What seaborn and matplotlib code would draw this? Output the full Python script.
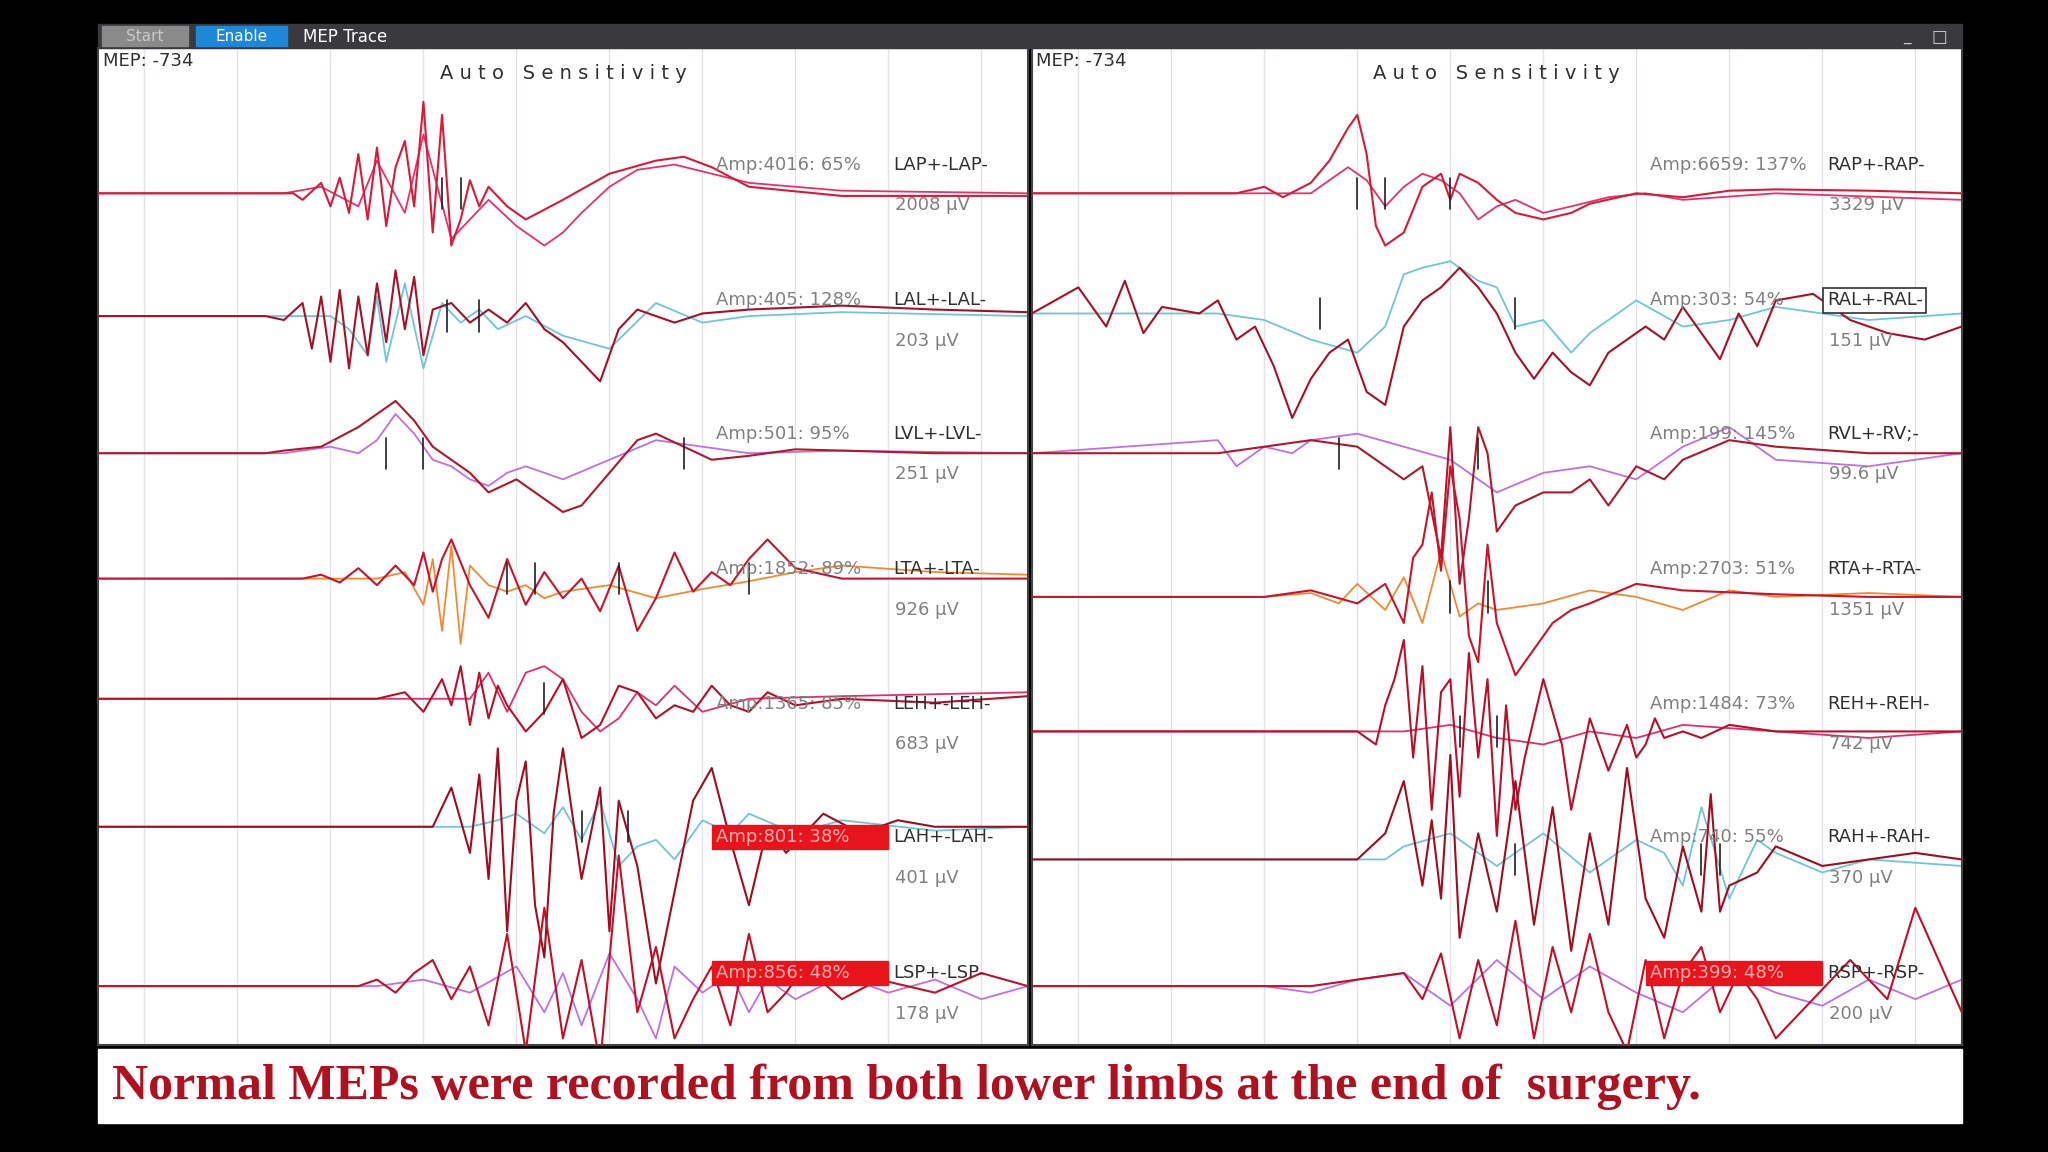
import numpy as np
import matplotlib
matplotlib.use("Agg")
import matplotlib.pyplot as plt
from matplotlib.patches import Rectangle
import seaborn as sns

sns.set_style("white")
plt.rcParams['font.family'] = ['DejaVu Sans']

# reference frame is 1568 x 882 px; panels span 0..100 ms
RW, RH = 1568.0, 882.0

# ---- data: (time ms, deflection px) per channel, two overlaid sweeps ----
left_names = ["LAP+-LAP-", "LAL+-LAL-", "LVL+-LVL-", "LTA+-LTA-", "LEH+-LEH-", "LAH+-LAH-", "LSP+-LSP-"]
left_amps = ["Amp:4016: 65%", "Amp:405: 128%", "Amp:501: 95%", "Amp:1852: 89%", "Amp:1365: 85%", "Amp:801: 38%", "Amp:856: 48%"]
left_uv = ["2008 µV", "203 µV", "251 µV", "926 µV", "683 µV", "401 µV", "178 µV"]
left_base = [148, 242, 347, 443, 535, 633, 755]
left_alarm = [False, False, False, False, False, True, True]

right_names = ["RAP+-RAP-", "RAL+-RAL-", "RVL+-RV;-", "RTA+-RTA-", "REH+-REH-", "RAH+-RAH-", "RSP+-RSP-"]
right_amps = ["Amp:6659: 137%", "Amp:303: 54%", "Amp:199: 145%", "Amp:2703: 51%", "Amp:1484: 73%", "Amp:740: 55%", "Amp:399: 48%"]
right_uv = ["3329 µV", "151 µV", "99.6 µV", "1351 µV", "742 µV", "370 µV", "200 µV"]
right_base = [148, 240, 347, 457, 560, 658, 755]
right_alarm = [False, False, False, False, False, False, True]
right_boxed = 1  # selected channel

# label rows (same for both panels)
label_rows = [126, 230, 332, 436, 539, 641, 745]

# sweep A (current) and sweep B (baseline) per channel
LA_t = [
    [0,21,22,24,25,26,27,28,29,30,31,32,33,34,35,36,37,38,39,40,41,42,44,46,50,55,60,63,66,70,80,100],
    [0,18,20,22,23,24,25,26,27,28,29,30,31,32,33,34,35,36,38,40,42,44,46,48,50,52,54,56,58,60,62,65,70,80,90,100],
    [0,18,20,24,28,30,32,34,36,38,40,42,45,48,50,52,55,58,60,63,66,70,75,80,90,100],
    [0,22,24,26,28,30,32,34,35,36,37,38,40,42,44,46,48,50,52,54,56,58,60,62,64,66,68,70,72,75,80,90,100],
    [0,30,33,35,37,38,39,40,41,42,43,44,46,48,50,52,54,56,58,60,62,64,66,68,70,72,75,80,90,100],
    [0,36,38,40,41,42,43,44,45,46,47,48,49,50,52,54,55,56,58,60,62,64,66,68,70,72,74,78,82,86,90,100],
    [0,28,30,32,34,36,38,40,42,44,46,48,50,52,54,56,58,60,62,64,66,68,70,72,74,76,80,84,90,95,100],
]
LA_v = [
    [0,0,-5,8,-10,12,-15,30,-20,35,-25,20,40,-10,70,-30,60,-40,-20,10,-10,5,-10,-20,-5,15,25,28,20,5,-2,-2],
    [0,0,-3,10,-25,15,-35,20,-40,15,-30,25,-20,35,-10,30,-30,5,10,-5,5,-5,10,-10,-20,-35,-50,-10,5,0,-5,2,5,8,5,3],
    [0,0,2,5,20,30,40,25,5,-5,-15,-30,-20,-35,-45,-40,-15,10,15,5,-5,-2,3,2,0,0],
    [0,0,3,-3,8,-5,10,-5,20,-10,15,30,-5,-30,15,-20,5,-15,0,-25,10,-40,-15,20,-10,5,-5,15,30,8,0,0,0],
    [0,0,5,-10,15,-5,25,-20,20,-15,10,-5,-25,-10,15,-30,-20,10,5,-15,-5,-10,10,-5,-10,5,-5,0,-3,2],
    [0,0,30,-20,40,-40,60,-80,20,50,-60,-100,10,60,-40,30,-80,20,-30,-120,-50,20,45,-10,-60,0,-20,10,-5,5,0,0],
    [0,0,5,-5,10,20,-10,15,-30,40,-50,60,-40,20,-60,100,-20,30,-40,-10,15,-30,40,-20,-5,15,-10,5,-5,10,0],
]
LB_t = [
    [0,20,24,28,30,33,35,38,40,42,45,48,50,52,55,58,62,66,70,80,100],
    [0,25,27,29,30,31,33,35,37,39,41,43,46,50,55,60,65,70,80,100],
    [0,20,25,28,30,32,34,36,38,40,42,44,46,50,55,60,65,70,80,100],
    [0,30,33,35,36,37,38,39,40,42,44,46,48,50,55,60,65,70,75,80,90,100],
    [0,40,42,44,46,48,50,52,54,56,58,60,62,65,70,80,100],
    [0,40,43,45,48,50,52,54,56,58,60,62,65,68,70,75,80,90,100],
    [0,30,35,40,45,48,50,52,55,58,60,62,65,68,70,72,75,80,85,90,95,100],
]
LB_v = [
    [0,0,5,-10,25,-15,45,-35,-20,-5,-25,-40,-30,-15,5,18,22,15,8,2,0],
    [0,0,-10,-30,15,-35,25,-40,10,-5,5,-10,0,-15,-25,10,-5,0,3,0],
    [0,0,5,0,10,30,15,-5,-10,-20,-25,-15,-10,-20,-5,10,5,0,2,0],
    [0,0,5,-20,15,-40,25,-50,10,-5,-10,-5,-15,-10,-5,-15,-8,-2,5,10,5,3],
    [0,0,20,-10,20,25,15,-10,-25,-15,5,-5,10,-10,0,2,5],
    [0,0,5,10,-5,15,-10,20,-30,-15,-10,-25,5,-5,10,-5,5,-3,0],
    [0,0,5,-5,15,-20,10,-30,25,-10,-40,15,-5,10,-20,5,-10,8,-5,5,-10,0],
]
RA_t = [
    [0,22,25,27,30,32,34,35,36,37,38,40,42,44,45,46,48,50,52,55,58,60,65,70,75,80,90,100],
    [0,5,8,10,12,14,18,20,22,24,26,28,30,32,34,36,38,40,42,44,46,48,50,52,54,56,58,60,62,64,66,68,70,72,74,76,78,80,84,88,92,96,100],
    [0,20,25,30,35,40,42,44,45,46,47,48,49,50,52,55,58,60,62,65,68,70,75,80,90,100],
    [0,25,30,35,38,40,41,42,43,44,45,46,47,48,49,50,52,54,56,58,60,65,70,80,90,100],
    [0,35,37,38,39,40,41,42,43,44,45,46,47,48,49,50,51,52,53,55,57,58,60,62,64,65,66,67,68,70,72,75,80,90,100],
    [0,35,38,40,42,43,44,45,46,48,50,52,54,56,58,60,62,64,66,68,70,72,73,74,75,78,80,85,90,95,100],
    [0,30,35,40,42,44,46,48,50,52,54,56,58,60,62,64,66,68,70,72,74,76,78,80,84,88,92,95,100],
]
RA_v = [
    [0,0,5,-3,8,25,50,60,30,-25,-40,-30,5,15,-5,15,8,-5,-15,-20,-15,-8,0,-3,2,3,2,0],
    [0,20,-10,25,-15,5,0,10,-20,-10,-40,-80,-50,-30,-20,-60,-70,-10,10,20,35,20,0,-30,-50,-30,-45,-55,-30,-20,-10,-20,5,-15,-35,0,-25,10,15,-5,-15,-20,-10],
    [0,0,5,10,5,-20,-10,-80,20,-100,-50,20,0,-60,-40,-30,-30,-20,-40,-10,-20,-5,10,5,0,0],
    [0,0,5,-5,10,-20,30,40,80,20,100,60,-30,-50,40,-20,-60,-40,-20,-10,-5,10,5,2,0,0],
    [0,0,-10,20,40,70,-20,50,-60,30,40,-50,60,-20,40,-80,20,-60,-20,40,-10,-60,10,-30,5,-20,-10,10,-5,0,-5,5,0,0,0],
    [0,0,20,60,-20,30,-30,80,-60,20,-40,60,-50,40,-70,20,-50,70,-30,-60,10,-40,50,-40,-20,-10,10,-5,0,5,0],
    [0,0,5,10,-10,25,-40,20,-30,50,-40,30,-20,40,-20,-50,20,-40,10,30,-20,10,-10,-40,-10,20,-10,60,-20],
]
RB_t = [
    [0,30,34,36,38,40,42,44,46,48,50,52,55,58,62,66,70,80,100],
    [0,20,25,30,35,38,40,42,45,48,50,52,55,58,60,65,70,75,80,90,100],
    [0,20,22,25,28,30,35,40,45,50,55,60,65,70,75,80,90,100],
    [0,25,30,33,35,38,40,42,44,46,48,50,55,60,65,70,75,80,90,100],
    [0,40,45,50,55,60,65,70,80,90,100],
    [0,38,40,45,50,55,60,65,68,70,72,75,78,80,85,90,100],
    [0,25,30,35,40,45,50,55,60,65,70,75,80,85,90,95,100],
]
RB_v = [
    [0,0,20,10,-10,5,15,10,0,-20,-10,-5,-15,-10,-3,0,-5,0,-5],
    [0,0,-5,-20,-30,-10,30,35,40,25,20,-10,-5,-30,-15,10,-10,-5,5,-5,0],
    [0,10,-10,5,0,10,15,5,-5,-30,-15,-10,-20,5,20,-5,-10,0],
    [0,0,3,-5,10,-10,15,-20,35,-15,-5,-10,-5,5,0,-10,5,0,3,0],
    [0,0,5,-5,-10,0,-5,5,0,-5,0],
    [0,0,10,20,-5,20,-10,15,5,-20,40,-30,15,5,-10,0,-5],
    [0,0,-5,5,10,-15,20,-10,15,-5,-20,10,-5,-15,5,-10,5],
]
# sweep colours per channel
col_a = ["#d81b3c", "#a8102a", "#b0182c", "#c8142c", "#b8102c", "#a00c20", "#c0102a"]
col_b = ["#e8306a", "#6cc8d0", "#c070e0", "#f08a30", "#e0306a", "#6cc8d0", "#c070e0"]
# latency markers (ms, channel index)
left_marks = [(37, 0), (39, 0), (37.5, 1), (41, 1), (31, 2), (35, 2), (63, 2), (44, 3), (47, 3), (56, 3), (70, 3), (48, 4), (52, 5), (57, 5)]
right_marks = [(35, 0), (38, 0), (45, 0), (52, 1), (33, 2), (31, 1), (48, 2), (45, 3), (49, 3), (46, 4), (50, 4), (52, 5), (72, 5), (74, 5)]


def fx(px):
    return px / RW


def fy(py):
    return 1 - py / RH


fig = plt.figure(figsize=(20.48, 11.52), dpi=100, facecolor="black")

# title bar
fig.patches.append(Rectangle((fx(75), fy(37)), fx(1427), 19 / RH, transform=fig.transFigure, color="#3a3a3e"))
fig.patches.append(Rectangle((fx(78), fy(35)), fx(66), 15 / RH, transform=fig.transFigure, color="#8a8a8a"))
fig.patches.append(Rectangle((fx(150), fy(35)), fx(70), 15 / RH, transform=fig.transFigure, color="#1e88d8"))
fig.text(fx(111), fy(28), "Start", color="#c8c8c8", fontsize=11, ha="center", va="center")
fig.text(fx(185), fy(28), "Enable", color="white", fontsize=11, ha="center", va="center")
fig.text(fx(232), fy(28), "MEP Trace", color="white", fontsize=12, ha="left", va="center")
fig.text(fx(1460), fy(28), "_", color="#cccccc", fontsize=11, ha="center", va="center")
fig.text(fx(1485), fy(28), "□", color="#cccccc", fontsize=12, ha="center", va="center")


def draw_panel(x0, names, amps, uvs, bases, alarms, At, Av, Bt, Bv, marks, boxed=None):
    ax = fig.add_axes([fx(x0), fy(800), fx(712), 763 / RH])
    ax.set_facecolor("white")
    ax.set_xlim(0, 100)
    ax.set_ylim(800, 37)
    for g in np.arange(5, 100, 10):
        ax.axvline(g, color="#dde4ee", lw=1, zorder=0)
    for i in range(len(names)):
        b = bases[i]
        sns.lineplot(x=Bt[i], y=[b - v for v in Bv[i]], ax=ax, color=col_b[i], lw=1.3,
                     sort=False, estimator=None, zorder=2)
        sns.lineplot(x=At[i], y=[b - v for v in Av[i]], ax=ax, color=col_a[i], lw=1.5,
                     sort=False, estimator=None, zorder=3)
        ay = label_rows[i]
        if alarms[i]:
            ax.add_patch(Rectangle((66, ay - 9), 19, 18, color="#e8141c", zorder=4))
            ax.text(66.5, ay, amps[i], color="#ffb0b0", fontsize=13, va="center", zorder=5)
        else:
            ax.text(66.5, ay, amps[i], color="#808080", fontsize=13, va="center", zorder=5)
        bbox = None
        if boxed == i:
            bbox = dict(boxstyle="square,pad=0.2", fc="white", ec="#303030", lw=1.2)
        ax.text(85.5, ay, names[i], color="#303030", fontsize=13, va="center", zorder=5, bbox=bbox)
        ax.text(85.7, ay + 31, uvs[i], color="#808080", fontsize=13, va="center", zorder=5)
    for t, c in marks:
        ax.plot([t, t], [bases[c] - 12, bases[c] + 12], color="#202020", lw=1.2, zorder=4)
    ax.text(0.5, 47, "MEP: -734", color="#303030", fontsize=13, va="center")
    ax.text(50, 56, "A u t o   S e n s i t i v i t y", color="#303030", fontsize=14, ha="center", va="center")
    ax.set_xticks([])
    ax.set_yticks([])
    for s in ax.spines.values():
        s.set_color("#444444")
        s.set_linewidth(1.5)
    return ax


draw_panel(75, left_names, left_amps, left_uv, left_base, left_alarm, LA_t, LA_v, LB_t, LB_v, left_marks)
draw_panel(790, right_names, right_amps, right_uv, right_base, right_alarm, RA_t, RA_v, RB_t, RB_v, right_marks,
           boxed=right_boxed)

# caption box
fig.patches.append(Rectangle((fx(75), fy(860)), fx(1427), 57 / RH, transform=fig.transFigure, color="white"))
fig.text(fx(86), fy(832), "Normal MEPs were recorded from both lower limbs at the end of  surgery.",
         color="#b01020", fontsize=36, fontweight="bold", family="Liberation Serif", ha="left", va="center")

fig.savefig("out.png", dpi=100, facecolor="black")
